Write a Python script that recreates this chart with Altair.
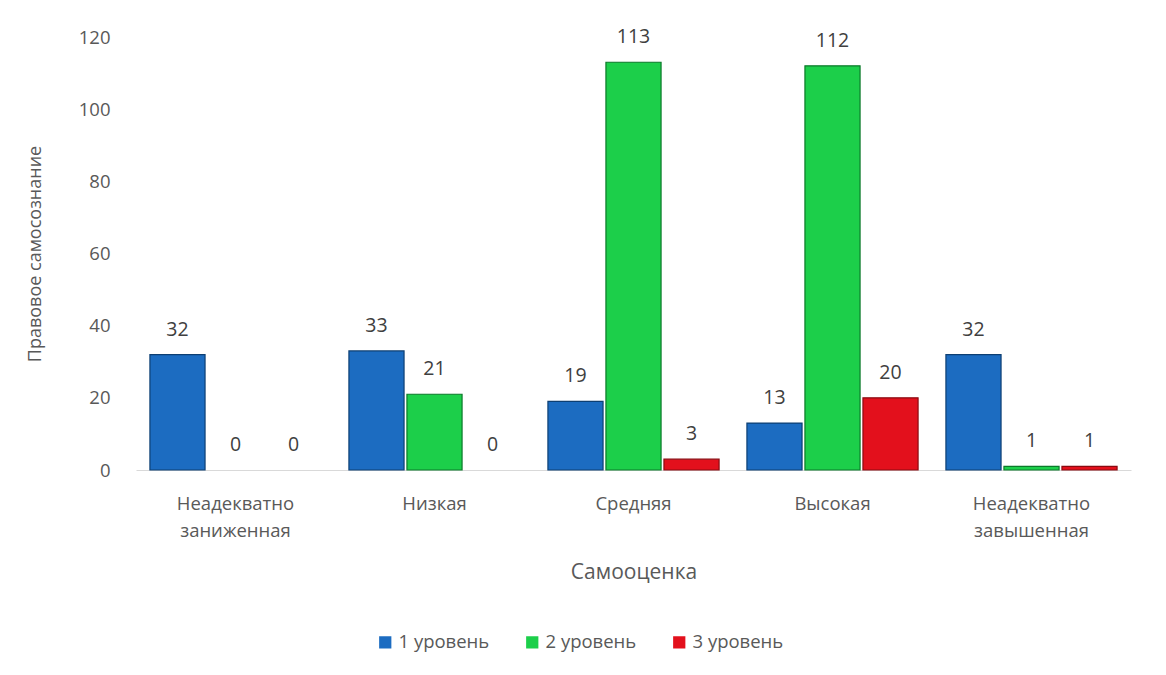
import altair as alt
import pandas as pd

categories = ["Неадекватно заниженная", "Низкая", "Средняя", "Высокая", "Неадекватно завышенная"]
series = ["1 уровень", "2 уровень", "3 уровень"]
level1 = [32, 33, 19, 13, 32]
level2 = [0, 21, 113, 112, 1]
level3 = [0, 0, 3, 20, 1]
colors = ["#1c6cc1", "#1ccf4a", "#e3101c"]
strokes = ["#0d3f73", "#0b7a2a", "#8a0a10"]

rows = []
for i, c in enumerate(categories):
    for s, vals in zip(series, [level1, level2, level3]):
        rows.append({"cat": c, "series": s, "value": vals[i]})
df = pd.DataFrame(rows)

FONT = "Open Sans"
TXT = "#595959"

base = alt.Chart(df).encode(
    x=alt.X("cat:N", sort=categories, title="Самооценка",
            scale=alt.Scale(paddingInner=0.14, paddingOuter=0.07),
            axis=alt.Axis(labelAngle=0, labelExpr="split(datum.label, ' ')",
                          labelFontSize=18.5, labelColor=TXT, labelFont=FONT,
                          labelPadding=24, labelLineHeight=27,
                          titleFontSize=21, titleColor=TXT, titleFont=FONT,
                          titleFontWeight="normal", titlePadding=22,
                          ticks=False, domainColor="#d9d9d9", domainWidth=1)),
    xOffset=alt.XOffset("series:N", sort=series, scale=alt.Scale(paddingInner=0.05)),
)

bars = base.mark_bar(strokeWidth=1.2).encode(
    y=alt.Y("value:Q", title="Правовое самосознание",
            scale=alt.Scale(domain=[0, 120]),
            axis=alt.Axis(values=[0, 20, 40, 60, 80, 100, 120], grid=False,
                          domain=False, ticks=False, labelPadding=26,
                          labelFontSize=18.5, labelColor=TXT, labelFont=FONT,
                          titleFontSize=18, titleColor=TXT, titleFont=FONT,
                          titleFontWeight="normal", titlePadding=34)),
    color=alt.Color("series:N", sort=series,
                    scale=alt.Scale(domain=series, range=colors),
                    legend=alt.Legend(orient="none", legendX=240, legendY=596,
                                      direction="horizontal",
                                      title=None, symbolType="square",
                                      symbolSize=150, labelFontSize=18.5,
                                      labelColor=TXT, labelFont=FONT,
                                      columnPadding=33, labelOffset=4,
                                      symbolStrokeWidth=0)),
    stroke=alt.Stroke("series:N", sort=series,
                      scale=alt.Scale(domain=series, range=strokes), legend=None),
).transform_filter("datum.value > 0")

labels = base.mark_text(baseline="bottom", dy=-15, fontSize=19.5, color="#404040", font=FONT).encode(
    y=alt.Y("value:Q"),
    text=alt.Text("value:Q"),
)

chart = alt.layer(bars, labels).properties(
    width=995, height=433, padding={"left": 18, "top": 19, "right": 10, "bottom": 10},
    background="white"
).configure_view(stroke=None)

chart.save("out.html", embed_options={"renderer": "svg", "actions": False})
